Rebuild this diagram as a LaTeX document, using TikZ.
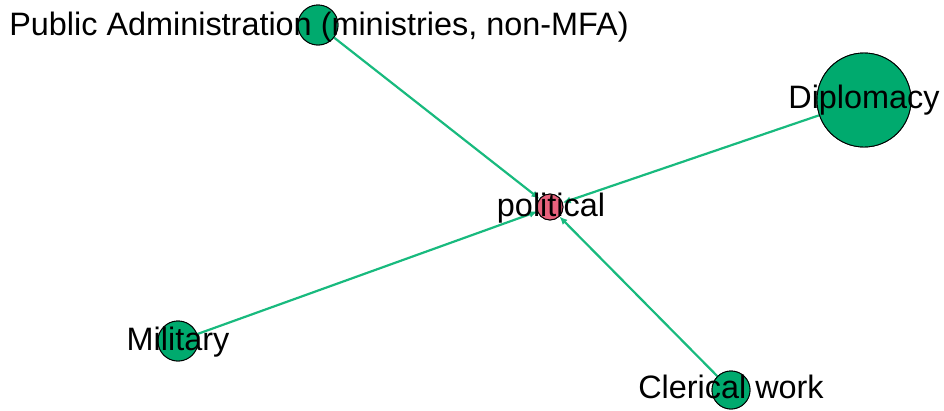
\documentclass[tikz,border=0pt]{standalone}
\usepackage{fontspec}
\setmainfont{Liberation Sans}
\usetikzlibrary{arrows.meta}
\definecolor{nodegreen}{RGB}{0,170,110}
\definecolor{edgegreen}{RGB}{24,186,126}
\definecolor{nodepink}{RGB}{232,98,125}
\begin{document}
\begin{tikzpicture}[x=1pt,y=-1pt,
  vertex/.style={circle,draw=black,line width=0.9pt,inner sep=0pt,fill=nodegreen},
  lbl/.style={anchor=base,inner sep=0pt,font=\fontsize{32.4}{38}\selectfont,text=black},
  link/.style={draw=edgegreen,line width=2.2pt,-{Latex[length=8pt,width=7pt]}}]
\useasboundingbox (0,0) rectangle (944,410);
% nodes (circles)
\node[vertex,minimum size=26pt,fill=nodepink] (pol) at (550,207) {};
\node[vertex,minimum size=94pt] (dip) at (864,100) {};
\node[vertex,minimum size=40pt] (pub) at (318,25) {};
\node[vertex,minimum size=40pt] (mil) at (178,341) {};
\node[vertex,minimum size=38pt] (cle) at (731,390) {};
% connectors into the central node
\draw[link] (pub) -- (pol);
\draw[link] (dip) -- (pol);
\draw[link] (mil) -- (pol);
\draw[link] (cle) -- (pol);
% redraw circles above the connectors
\node[vertex,minimum size=26pt,fill=nodepink] at (pol) {};
\node[vertex,minimum size=94pt] at (dip) {};
\node[vertex,minimum size=40pt] at (pub) {};
\node[vertex,minimum size=40pt] at (mil) {};
\node[vertex,minimum size=38pt] at (cle) {};
% labels
\node[lbl] (polt) at (551,216) {political};
\node[lbl] (dipt) at (864,108) {Diplomacy};
\node[lbl] (pubt) at (319,35) {Public Administration (ministries, non-MFA)};
\node[lbl] (milt) at (178,350) {Military};
\node[lbl] (clet) at (731,398) {Clerical work};
\end{tikzpicture}
\end{document}
